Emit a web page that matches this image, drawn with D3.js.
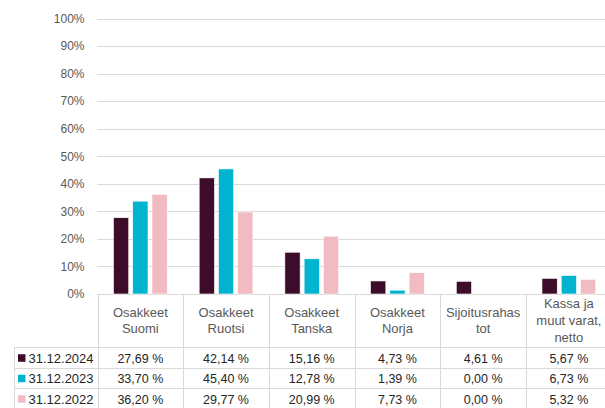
<!DOCTYPE html>
<html>
<head>
<meta charset="utf-8">
<script src="https://cdn.jsdelivr.net/npm/d3@7"></script>
<style>
  body { margin: 0; background: #fff; }
  svg { display: block; font-family: "Liberation Sans", Arial, sans-serif; }
</style>
</head>
<body>
<svg id="chart" width="605" height="408"></svg>
<script>
// categories, each split in the lines shown in the table header
var categories = ["Osakkeet Suomi", "Osakkeet Ruotsi", "Osakkeet Tanska", "Osakkeet Norja", "Sijoitusrahastot", "Kassa ja muut varat, netto"];
var categoryLines = [
  ["Osakkeet", "Suomi"],
  ["Osakkeet", "Ruotsi"],
  ["Osakkeet", "Tanska"],
  ["Osakkeet", "Norja"],
  ["Sijoitusrahas", "tot"],
  ["Kassa ja", "muut varat,", "netto"]
];
var seriesNames = ["31.12.2024", "31.12.2023", "31.12.2022"];
var values2024 = [27.69, 42.14, 15.16, 4.73, 4.61, 5.67];
var values2023 = [33.70, 45.40, 12.78, 1.39, 0.00, 6.73];
var values2022 = [36.20, 29.77, 20.99, 7.73, 0.00, 5.32];
var seriesValues = [values2024, values2023, values2022];
var seriesColors = ["#3d0c2b", "#00b4cf", "#f0bcc2"];
var yTicks = [0, 10, 20, 30, 40, 50, 60, 70, 80, 90, 100];

var svg = d3.select("#chart");
var plotLeft = 97.5, plotTop = 18.5, plotBottom = 294,
    catWidth = 85.7,
    legendLeft = 14.5,
    headerBottom = 347, rowHeight = 20.5;

var x0 = d3.scaleBand()
    .domain(categories)
    .range([plotLeft, plotLeft + catWidth * categories.length])
    .padding(0);

var x1 = d3.scaleBand()
    .domain(seriesNames)
    .range([0, x0.bandwidth()])
    .paddingInner(0.207)
    .paddingOuter(0.83);

var y = d3.scaleLinear().domain([0, 100]).range([plotBottom, plotTop]);

// gridlines
svg.append("g")
  .selectAll("line")
  .data(yTicks)
  .enter().append("line")
    .attr("x1", plotLeft)
    .attr("x2", 605)
    .attr("y1", function(d) { return Math.round(y(d)) + 0.5; })
    .attr("y2", function(d) { return Math.round(y(d)) + 0.5; })
    .attr("stroke", "#d9d9d9")
    .attr("stroke-width", 1);

// y axis labels
var yAxis = svg.append("g")
    .attr("transform", "translate(" + plotLeft + ",0)")
    .call(d3.axisLeft(y).tickValues(yTicks).tickSize(0).tickPadding(13)
      .tickFormat(function(d) { return d + "%"; }));
yAxis.select(".domain").remove();
yAxis.selectAll("text")
    .style("font-size", "12px")
    .attr("fill", "#595959");

// bars
var groups = svg.append("g")
  .selectAll("g")
  .data(categories)
  .enter().append("g")
    .attr("transform", function(d) { return "translate(" + x0(d) + ",0)"; });

groups.selectAll("rect")
  .data(function(d, i) {
    return seriesNames.map(function(s, j) { return {series: s, value: seriesValues[j][i], color: seriesColors[j]}; });
  })
  .enter().append("rect")
    .attr("x", function(d) { return x1(d.series); })
    .attr("width", x1.bandwidth())
    .attr("y", function(d) { return y(d.value); })
    .attr("height", function(d) { return y(0) - y(d.value); })
    .attr("fill", function(d) { return d.color; })
    .attr("stroke", "#fff")
    .attr("stroke-width", 0.6);

// data table
var table = svg.append("g");
var lineColor = "#d9d9d9";
var tableBottom = headerBottom + rowHeight * seriesNames.length;

// vertical lines at category edges
var edges = categories.map(function(c) { return x0(c); }).concat([x0.range()[1]]);
table.selectAll("line.v")
  .data(edges)
  .enter().append("line")
    .attr("class", "v")
    .attr("x1", function(d) { return Math.round(d) + 0.5; })
    .attr("x2", function(d) { return Math.round(d) + 0.5; })
    .attr("y1", plotBottom)
    .attr("y2", tableBottom)
    .attr("stroke", lineColor);

// legend column left edge
table.append("line")
    .attr("x1", legendLeft).attr("x2", legendLeft)
    .attr("y1", headerBottom).attr("y2", tableBottom)
    .attr("stroke", lineColor);

// horizontal row lines
var rowLines = d3.range(seriesNames.length + 1).map(function(i) { return headerBottom + i * rowHeight; });
table.selectAll("line.h")
  .data(rowLines)
  .enter().append("line")
    .attr("class", "h")
    .attr("x1", legendLeft)
    .attr("x2", 605)
    .attr("y1", function(d) { return Math.round(d) + 0.5; })
    .attr("y2", function(d) { return Math.round(d) + 0.5; })
    .attr("stroke", lineColor);

// header labels
var lineGap = 16.8;
categories.forEach(function(c, i) {
  var lines = categoryLines[i];
  var cx = x0(c) + x0.bandwidth() / 2;
  var mid = (plotBottom + headerBottom) / 2;
  lines.forEach(function(t, k) {
    table.append("text")
      .attr("x", cx)
      .attr("y", mid + (k - (lines.length - 1) / 2) * lineGap)
      .attr("dy", "0.35em")
      .attr("text-anchor", "middle")
      .style("font-size", "13px")
      .attr("fill", "#595959")
      .text(t);
  });
});

// rows
function fmt(v) { return v.toFixed(2).replace(".", ",") + " %"; }

seriesNames.forEach(function(s, j) {
  var cy = headerBottom + j * rowHeight + rowHeight / 2 + 1;
  table.append("rect")
    .attr("x", 18)
    .attr("y", cy - 4)
    .attr("width", 7.5)
    .attr("height", 7.5)
    .attr("fill", seriesColors[j]);
  table.append("text")
    .attr("x", 28.5)
    .attr("y", cy)
    .attr("dy", "0.35em")
    .style("font-size", "13px")
    .attr("fill", "#262626")
    .text(s);
  categories.forEach(function(c, i) {
    table.append("text")
      .attr("x", x0(c) + x0.bandwidth() / 2)
      .attr("y", cy)
      .attr("dy", "0.35em")
      .attr("text-anchor", "middle")
      .style("font-size", "12.5px")
      .attr("fill", "#262626")
      .text(fmt(seriesValues[j][i]));
  });
});
</script>
</body>
</html>
